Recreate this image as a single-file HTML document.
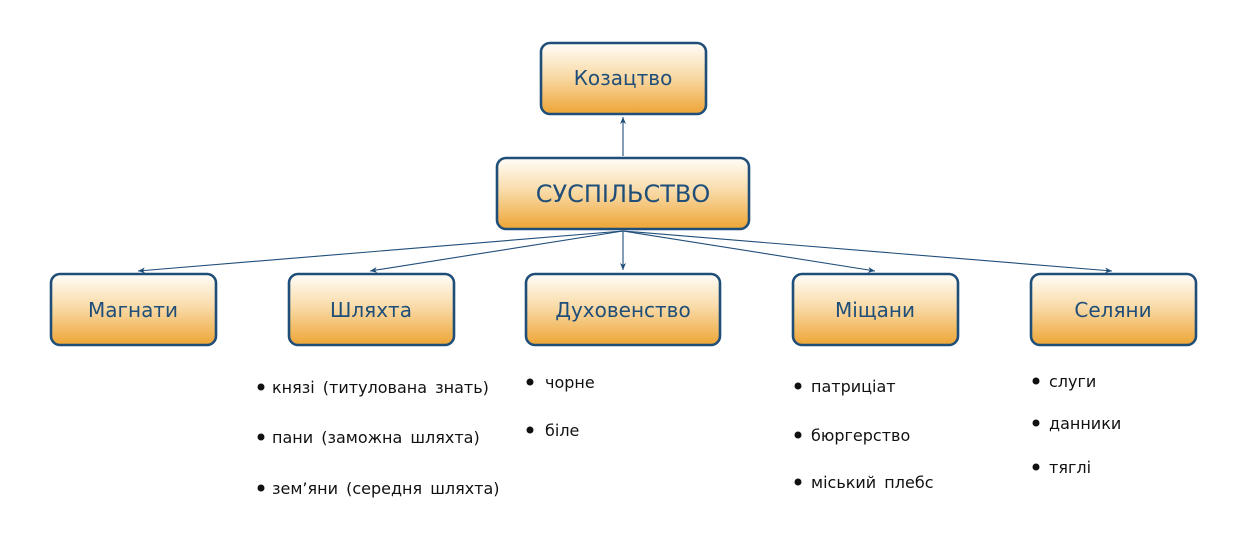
<!DOCTYPE html>
<html><head><meta charset="utf-8"><style>
html,body{margin:0;padding:0;background:#fff;}
svg{display:block;}
text{font-family:"DejaVu Sans","Liberation Sans",sans-serif;}
.bt{fill:#1f4e79;font-size:20px;text-anchor:middle;}
.li{fill:#111;font-size:16px;word-spacing:3px;}
</style></head><body>
<svg width="1246" height="554" viewBox="0 0 1246 554" xmlns="http://www.w3.org/2000/svg">
<defs>
<linearGradient id="g" x1="0" y1="0" x2="0" y2="1">
<stop offset="0" stop-color="#fffdf8"/><stop offset="0.45" stop-color="#f9dcaa"/><stop offset="1" stop-color="#eea535"/>
</linearGradient>
<marker id="a" markerWidth="8" markerHeight="8" refX="7" refY="4" orient="auto" markerUnits="userSpaceOnUse">
<path d="M0,1 L7,4 L0,7 L2,4 Z" fill="#1f4e79"/>
</marker>
</defs>
<g stroke="#1f4e79" stroke-width="1.1" fill="none" marker-end="url(#a)">
<line x1="623" y1="156" x2="623" y2="117"/>
<line x1="623" y1="231" x2="138" y2="271"/>
<line x1="623" y1="231" x2="370" y2="271"/>
<line x1="623" y1="231" x2="623" y2="270"/>
<line x1="623" y1="231" x2="875" y2="271"/>
<line x1="623" y1="231" x2="1112" y2="271"/>
</g>
<g fill="url(#g)" stroke="#1f4e79" stroke-width="2.6">
<rect x="541" y="43" width="165" height="71" rx="9"/>
<rect x="497" y="158" width="252" height="71" rx="9"/>
<rect x="51" y="274" width="165" height="71" rx="9"/>
<rect x="289" y="274" width="165" height="71" rx="9"/>
<rect x="526" y="274" width="194" height="71" rx="9"/>
<rect x="793" y="274" width="165" height="71" rx="9"/>
<rect x="1031" y="274" width="165" height="71" rx="9"/>
</g>
<text class="bt" x="623" y="85">Козацтво</text>
<text class="bt" x="623" y="202" style="font-size:24px">СУСПІЛЬСТВО</text>
<text class="bt" x="133" y="317">Магнати</text>
<text class="bt" x="371" y="317">Шляхта</text>
<text class="bt" x="623" y="317">Духовенство</text>
<text class="bt" x="875" y="317">Міщани</text>
<text class="bt" x="1113" y="317">Селяни</text>
<g fill="#111">
<circle cx="261" cy="387" r="3.5"/><circle cx="261" cy="437" r="3.5"/><circle cx="261" cy="488" r="3.5"/>
<circle cx="530" cy="382" r="3.5"/><circle cx="530" cy="430" r="3.5"/>
<circle cx="798" cy="386" r="3.5"/><circle cx="798" cy="435" r="3.5"/><circle cx="798" cy="482" r="3.5"/>
<circle cx="1036" cy="381" r="3.5"/><circle cx="1036" cy="423" r="3.5"/><circle cx="1036" cy="467" r="3.5"/>
</g>
<text class="li" x="272" y="393">князі (титулована знать)</text>
<text class="li" x="272" y="443">пани (заможна шляхта)</text>
<text class="li" x="272" y="494">зем’яни (середня шляхта)</text>
<text class="li" x="545" y="388">чорне</text>
<text class="li" x="545" y="436">біле</text>
<text class="li" x="811" y="392">патриціат</text>
<text class="li" x="811" y="441">бюргерство</text>
<text class="li" x="811" y="488">міський плебс</text>
<text class="li" x="1049" y="387">слуги</text>
<text class="li" x="1049" y="429">данники</text>
<text class="li" x="1049" y="473">тяглі</text>
</svg>
</body></html>
